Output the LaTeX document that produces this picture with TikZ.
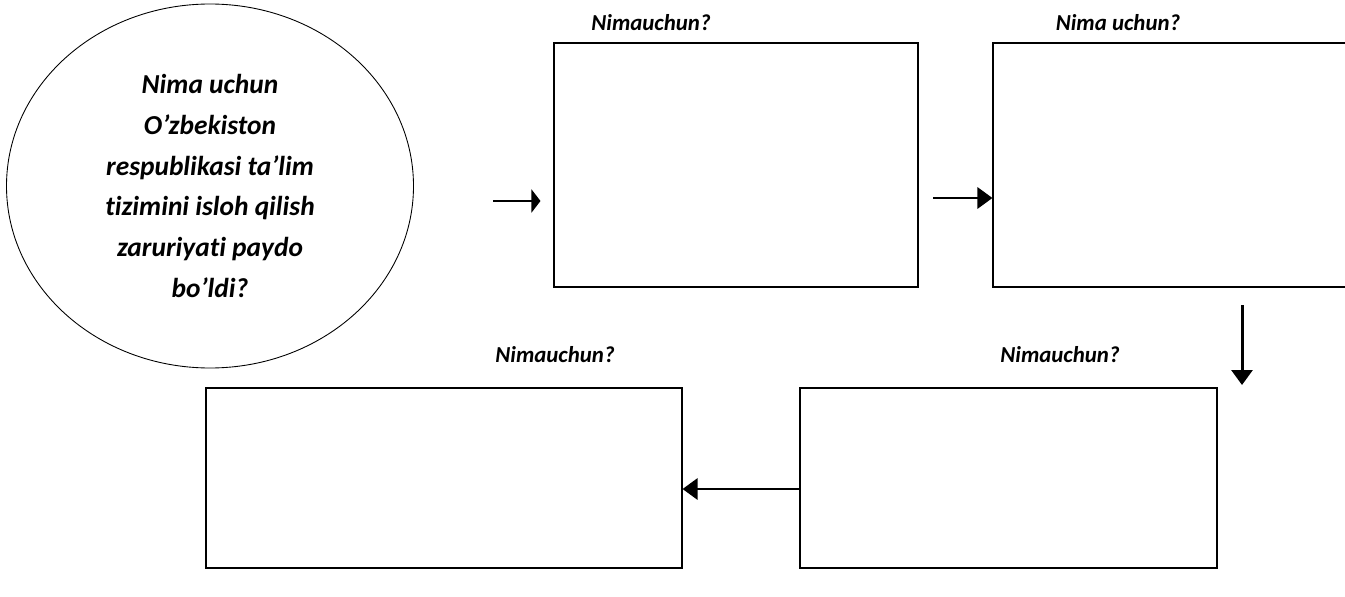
\documentclass[tikz,border=0pt]{standalone}
\usepackage{fontspec}
\setmainfont{Carlito}[Ligatures=NoCommon]
\usetikzlibrary{arrows.meta,positioning,shapes.geometric}

\begin{document}
\begin{tikzpicture}[
    font=\bfseries\itshape,
    qst/.style={ellipse, draw, line width=0.5pt, minimum width=8.14cm, minimum height=7.28cm, inner sep=0pt, align=center,
                font=\fontsize{15.6}{23.2}\selectfont\bfseries\itshape},
    box/.style={rectangle, draw, line width=0.6pt, minimum height=4.88cm, minimum width=7.28cm, inner sep=0pt},
    boxLow/.style={rectangle, draw, line width=0.6pt, minimum height=3.6cm, inner sep=0pt},
    lbl/.style={font=\fontsize{13}{15}\selectfont\bfseries\itshape},
    arr/.style={-{Triangle[length=0.3cm,width=0.42cm]}, line width=1.7pt},
    arrSm/.style={-{Triangle[length=0.18cm,width=0.46cm]}, line width=1.7pt},
  ]
  \useasboundingbox (0,0) rectangle (26.9,-11.92);

  %% ===== QUESTION (left) =====
  \node[qst] (qst) at (4.2,-3.72) {Nima uchun\\O’zbekiston\\respublikasi ta’lim\\tizimini isloh qilish\\zaruriyati paydo\\bo’ldi?};

  %% ===== TOP ROW =====
  \node[box] (boxA) at (14.72,-3.3) {};
  \node[box] (boxB) at (23.5,-3.3)  {};
  \node[lbl] (lblA) at (13.02,-0.46) {Nimauchun?};
  \node[lbl] (lblB) at (22.36,-0.46) {Nima uchun?};

  %% ===== BOTTOM ROW =====
  \node[boxLow, minimum width=9.52cm] (boxC) at (8.88,-9.56)  {};
  \node[boxLow, minimum width=8.34cm] (boxD) at (20.17,-9.56) {};
  \node[lbl] (lblC) at (11.1,-7.1) {Nimauchun?};
  \node[lbl] (lblD) at (21.2,-7.1) {Nimauchun?};

  %% ===== ARROWS =====
  \coordinate (a1) at (9.86,-4.02);
  \coordinate (a2) at (18.66,-3.96);
  \coordinate (a3) at (24.84,-6.1);
  \coordinate (a3e) at (24.84,-7.7);
  \coordinate (a4) at (16,-9.78);

  \draw[arrSm, shorten >=0.26cm] (a1) -- (a1 -| boxA.west);
  \draw[arr] (a2) -- (a2 -| boxB.west);
  \draw[arr] (a3) -- (a3e);
  \draw[arr] (a4 -| boxD.west) -- (a4 -| boxC.east);

\end{tikzpicture}
\end{document}
